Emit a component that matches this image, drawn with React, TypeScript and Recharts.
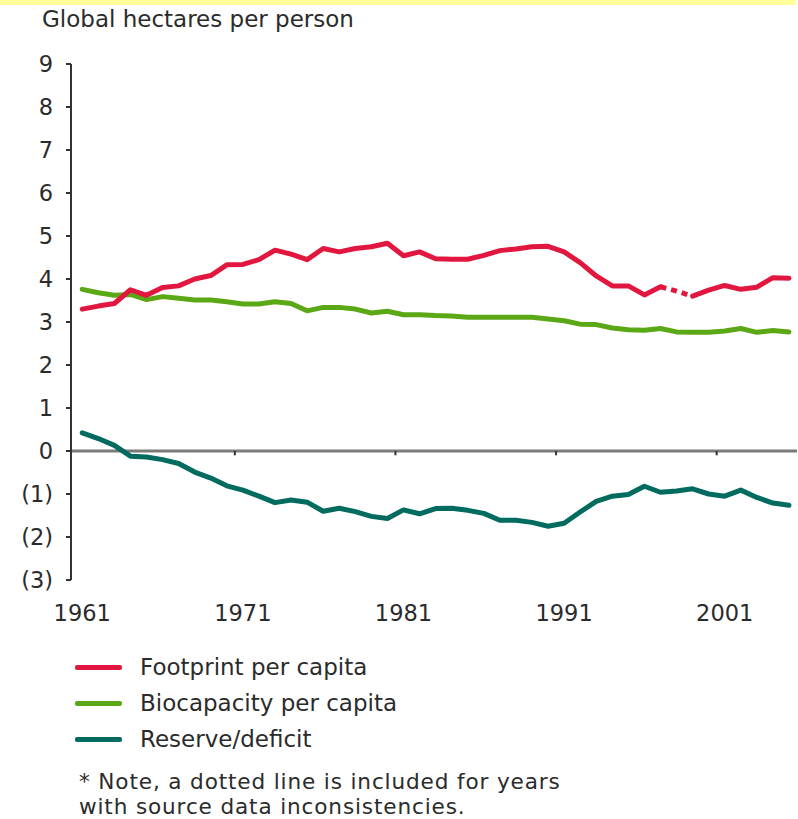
import { LineChart, Line, XAxis, YAxis, ReferenceLine } from 'recharts';

// Years 1961-2005
const years = [
    1961, 1962, 1963, 1964, 1965, 1966, 1967, 1968, 1969, 1970,
    1971, 1972, 1973, 1974, 1975, 1976, 1977, 1978, 1979, 1980,
    1981, 1982, 1983, 1984, 1985, 1986, 1987, 1988, 1989, 1990,
    1991, 1992, 1993, 1994, 1995, 1996, 1997, 1998, 1999, 2000,
    2001, 2002, 2003, 2004, 2005,
];

const footprint = [
    3.30, 3.37, 3.43, 3.75, 3.62, 3.80, 3.84, 4.00, 4.08, 4.33,
    4.34, 4.45, 4.67, 4.58, 4.45, 4.71, 4.63, 4.71, 4.75, 4.83,
    4.54, 4.63, 4.47, 4.46, 4.46, 4.55, 4.66, 4.70, 4.75, 4.76,
    4.63, 4.38, 4.07, 3.84, 3.84, 3.63, 3.82, 3.72, 3.60, 3.74,
    3.85, 3.76, 3.81, 4.03, 4.02,
];

const biocapacity = [
    3.76, 3.68, 3.62, 3.64, 3.52, 3.59, 3.55, 3.51, 3.51, 3.47,
    3.42, 3.42, 3.47, 3.43, 3.26, 3.34, 3.34, 3.30, 3.21, 3.25,
    3.17, 3.17, 3.15, 3.14, 3.11, 3.11, 3.11, 3.11, 3.11, 3.07,
    3.03, 2.95, 2.94, 2.86, 2.82, 2.81, 2.85, 2.77, 2.76, 2.76,
    2.79, 2.85, 2.76, 2.80, 2.77,
];

const reserve = [
    0.42, 0.29, 0.13, -0.12, -0.14, -0.20, -0.29, -0.49, -0.63, -0.81,
    -0.91, -1.05, -1.20, -1.14, -1.19, -1.40, -1.33, -1.41, -1.52, -1.57,
    -1.37, -1.46, -1.34, -1.33, -1.38, -1.45, -1.61, -1.61, -1.66, -1.75,
    -1.68, -1.42, -1.17, -1.05, -1.01, -0.82, -0.96, -0.93, -0.88, -1.00,
    -1.05, -0.91, -1.08, -1.21, -1.26,
];

// years where the footprint series is drawn dotted (source data inconsistencies)
const dottedYears = [1997, 1998, 1999];

const yTicks = [-3, -2, -1, 0, 1, 2, 3, 4, 5, 6, 7, 8, 9];
const xLabelTicks = [1961, 1971, 1981, 1991, 2001];
const zeroLineTicks = [1970.5, 1980.5, 1990.5, 2000.5];

const series = [
    { key: 'footprint', name: 'Footprint per capita', color: '#e2173f' },
    { key: 'biocapacity', name: 'Biocapacity per capita', color: '#5aa815' },
    { key: 'reserve', name: 'Reserve/deficit', color: '#006b5e' },
];

const noteLines = [
    '* Note, a dotted line is included for years',
    'with source data inconsistencies.',
];

const FONT = '"DejaVu Sans", Verdana, sans-serif';
const TEXT = '#2b2b2b';

const data = years.map((year, i) => {
    const inner = dottedYears.slice(1, -1).includes(year);
    return {
        year,
        footprint: inner ? null : footprint[i],
        footprintDotted: dottedYears.includes(year) ? footprint[i] : null,
        biocapacity: biocapacity[i],
        reserve: reserve[i],
    };
});

const formatY = (v: number) => (v < 0 ? `(${-v})` : `${v}`);

export default function App() {
    return (
        <div style={{ position: 'absolute', left: 0, top: 0, width: 798, height: 819, overflow: 'hidden', background: '#fff', fontFamily: FONT, color: TEXT }}>
            <div style={{ position: 'absolute', left: 0, top: 0, width: 796, height: 5, background: '#ffff99' }} />
            <div style={{ position: 'absolute', left: 42, top: 8, fontSize: 23, lineHeight: '23px', whiteSpace: 'nowrap' }}>
                Global hectares per person
            </div>

            <div style={{ position: 'absolute', left: 0, top: 0 }}>
                <LineChart width={798} height={640} data={data} margin={{ top: 64, right: 1, bottom: 0, left: 0 }}>
                    <XAxis
                        dataKey="year"
                        type="number"
                        domain={[1960.3, 2005.5]}
                        ticks={xLabelTicks}
                        axisLine={false}
                        tickLine={false}
                        tickSize={0}
                        tickMargin={25}
                        height={60}
                        tick={{ fill: TEXT, fontSize: 22.5, fontFamily: FONT }}
                        allowDataOverflow
                    />
                    <YAxis
                        width={71}
                        domain={[-3, 9]}
                        ticks={yTicks}
                        tickFormatter={formatY}
                        interval={0}
                        axisLine={{ stroke: '#333', strokeWidth: 2 }}
                        tickLine={{ stroke: '#333', strokeWidth: 2 }}
                        tickSize={5}
                        tickMargin={13}
                        tick={{ fill: TEXT, fontSize: 22.5, fontFamily: FONT }}
                    />
                    <ReferenceLine y={0} stroke="#7a7a7a" strokeWidth={3} />
                    {zeroLineTicks.map((t) => (
                        <ReferenceLine
                            key={t}
                            segment={[{ x: t, y: 0 }, { x: t, y: -0.1 }]}
                            stroke="#333"
                            strokeWidth={2}
                        />
                    ))}
                    <Line dataKey="biocapacity" stroke={series[1].color} strokeWidth={5} dot={false} isAnimationActive={false} strokeLinejoin="round" strokeLinecap="round" />
                    <Line dataKey="reserve" stroke={series[2].color} strokeWidth={5} dot={false} isAnimationActive={false} strokeLinejoin="round" strokeLinecap="round" />
                    <Line dataKey="footprint" stroke={series[0].color} strokeWidth={5} dot={false} isAnimationActive={false} strokeLinejoin="round" strokeLinecap="round" />
                    <Line dataKey="footprintDotted" stroke={series[0].color} strokeWidth={5} strokeDasharray="6 5" dot={false} isAnimationActive={false} />
                </LineChart>
            </div>

            {series.map((s, i) => (
                <div key={s.key} style={{ position: 'absolute', left: 75, top: 649 + i * 36, height: 36, display: 'flex', alignItems: 'center', fontSize: 23, whiteSpace: 'nowrap' }}>
                    <span style={{ display: 'inline-block', width: 47, height: 5, background: s.color, borderRadius: 2, marginRight: 18 }} />
                    {s.name}
                </div>
            ))}

            {noteLines.map((line, i) => (
                <div key={i} style={{ position: 'absolute', left: 79, top: 769 + i * 25.2, fontSize: 21.6, lineHeight: '25.2px', letterSpacing: 0.85, whiteSpace: 'nowrap' }}>
                    {line}
                </div>
            ))}
        </div>
    );
}
